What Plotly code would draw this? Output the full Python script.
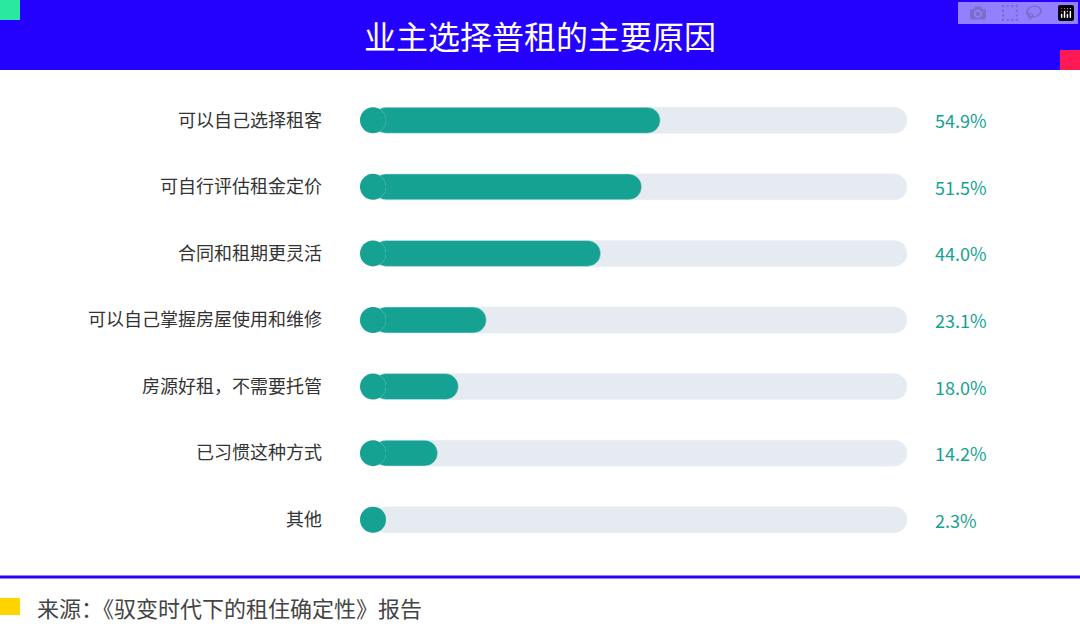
import plotly.graph_objects as go

categories = ["可以自己选择租客", "可自行评估租金定价", "合同和租期更灵活", "可以自己掌握房屋使用和维修",
              "房源好租，不需要托管", "已习惯这种方式", "其他"]
values = [54.9, 51.5, 44.0, 23.1, 18.0, 14.2, 2.3]
track = [100] * len(categories)

W, H = 1080, 644
def py(p): return 1 - p / H
def px(p): return p / W

R = 13 / 5.47  # cap radius in data units
fig = go.Figure()
fig.add_bar(y=categories, x=[t - R for t in track], base=R, orientation="h", marker_color="#E6EBF2", width=0.39, hoverinfo="skip")
fig.add_scatter(y=categories, x=[R] * len(categories), mode="markers", marker=dict(size=26, color="#E6EBF2"), hoverinfo="skip")
fig.add_bar(y=categories, x=[max(v - R, 0.01) for v in values], base=R, orientation="h", marker_color="#16A292", width=0.39)
fig.add_scatter(y=categories, x=[R] * len(categories), mode="markers", marker=dict(size=26, color="#16A292"), hoverinfo="skip")

ann = [dict(x=px(933), xref="paper", y=c, yref="y", text=f"{v:.1f}%", showarrow=False,
            xanchor="left", yanchor="middle", font=dict(size=18, color="#16A292")) for c, v in zip(categories, values)]
ann.append(dict(x=0.5, xref="paper", y=py(35), yref="paper", text="业主选择普租的主要原因", showarrow=False,
                yanchor="middle", font=dict(size=32, color="white")))
ann.append(dict(x=px(35), xref="paper", y=py(607), yref="paper", text="来源：《驭变时代下的租住确定性》报告",
                showarrow=False, xanchor="left", yanchor="middle", font=dict(size=22, color="#444")))

shapes = [
    dict(type="rect", xref="paper", yref="paper", x0=0, x1=1, y0=py(70), y1=1, fillcolor="#2400FF", line_width=0, layer="below"),
    dict(type="rect", xref="paper", yref="paper", x0=0, x1=px(20), y0=py(20), y1=1, fillcolor="#2BE8A0", line_width=0),
    dict(type="rect", xref="paper", yref="paper", x0=px(1060), x1=1, y0=py(70), y1=py(50), fillcolor="#FF1A55", line_width=0),
    dict(type="line", xref="paper", yref="paper", x0=0, x1=1, y0=py(577), y1=py(577), line=dict(color="#2400FF", width=3)),
    dict(type="rect", xref="paper", yref="paper", x0=0, x1=px(20), y0=py(615), y1=py(598), fillcolor="#FFD400", line_width=0),
]

fig.update_layout(
    width=W, height=H, margin=dict(l=0, r=0, t=0, b=0), paper_bgcolor="white", plot_bgcolor="white",
    barmode="overlay", barcornerradius=13, showlegend=False,
    font=dict(family="Noto Sans CJK SC", color="#333"),
    xaxis=dict(domain=[px(360), px(907)], range=[0, 100], visible=False, fixedrange=True),
    yaxis=dict(domain=[py(553), py(87)], range=[6.5, -0.5], showgrid=False, zeroline=False, showline=False,
               ticks="", tickfont=dict(size=18, color="#333"), ticklabelstandoff=37, fixedrange=True),
    annotations=ann, shapes=shapes,
)
fig.write_html("out.html")
with open("out.html", encoding="utf-8") as f:
    html = f.read()
html = html.replace("<body>", '<body style="margin:0;overflow:hidden">', 1)
with open("out.html", "w", encoding="utf-8") as f:
    f.write(html)
